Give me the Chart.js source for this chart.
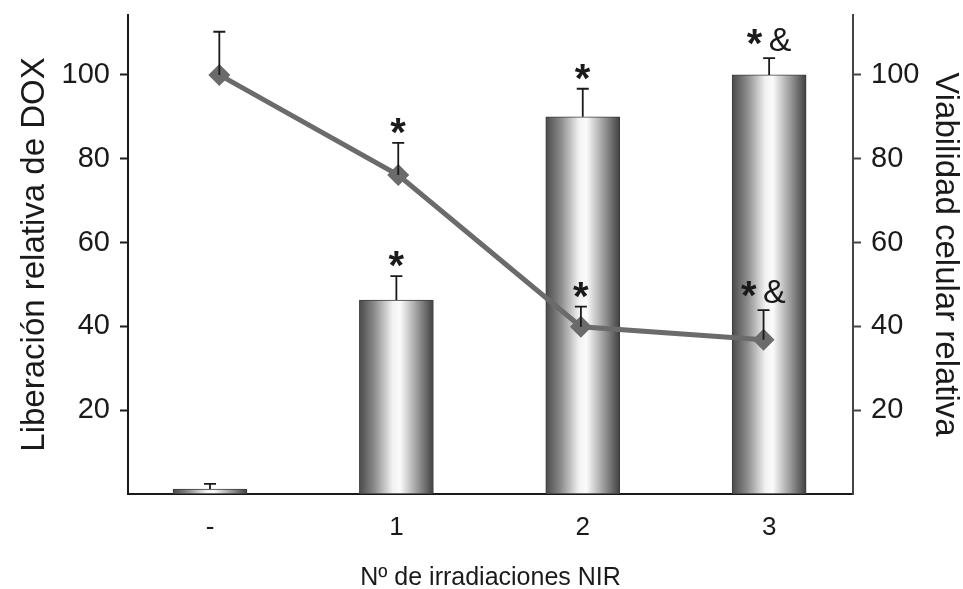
<!DOCTYPE html>
<html>
<head>
<meta charset="utf-8">
<script src="https://cdn.jsdelivr.net/npm/chart.js@4/dist/chart.umd.min.js"></script>
<style>
  html, body { margin: 0; padding: 0; background: #fff; }
  #wrap { width: 963px; height: 589px; }
</style>
</head>
<body>
<div id="wrap"><canvas id="chart"></canvas></div>
<script>
// Values (both y axes share the same 0..~114 range).
const xTickLabels = ["-", "1", "2", "3"];
const barX = [0, 1, 2, 3];
const doxRelease = [1.2, 46.3, 90, 100];
const doxError = [1.2, 5.7, 6.7, 4];
const doxMarks = ["", "*", "*", "*&"];

const viabX = [0.05, 1.01, 1.99, 2.97];
const viability = [100, 76.1, 39.9, 36.8];
const viabError = [10.3, 7.7, 4.8, 7.1];
const viabMarks = ["", "*", "*", "*&"];

const FONT = "'Liberation Sans', Arial, Helvetica, sans-serif";
const Y_MAX = 114.3;
const INK = "#1a1a1a";
const LINE_GREY = "#6b6b6b";
const BAR_WIDTH = 74;

Chart.defaults.font.family = FONT;
Chart.defaults.color = INK;

// Cylinder-like horizontal shading for each bar.
function barGradient(c) {
  const chart = c.chart;
  if (!chart.chartArea) return "#999";
  const cx = chart.scales.x.getPixelForValue(barX[c.dataIndex]);
  const g = chart.ctx.createLinearGradient(cx - BAR_WIDTH / 2, 0, cx + BAR_WIDTH / 2, 0);
  g.addColorStop(0, "#4a4a4a");
  g.addColorStop(0.2, "#8a8a8a");
  g.addColorStop(0.45, "#f2f2f2");
  g.addColorStop(0.55, "#fbfbfb");
  g.addColorStop(0.8, "#949494");
  g.addColorStop(1, "#404040");
  return g;
}

// Upward-only error bars with a small cap.
function drawErrors(chart, xs, ys, errs, axisId) {
  const ctx = chart.ctx;
  const xScale = chart.scales.x;
  const yScale = chart.scales[axisId];
  ctx.save();
  ctx.strokeStyle = INK;
  ctx.lineWidth = 1.8;
  xs.forEach((xv, i) => {
    const px = xScale.getPixelForValue(xv);
    const y0 = yScale.getPixelForValue(ys[i]);
    const y1 = yScale.getPixelForValue(ys[i] + errs[i]);
    ctx.beginPath();
    ctx.moveTo(px, y0);
    ctx.lineTo(px, y1);
    ctx.moveTo(px - 6, y1);
    ctx.lineTo(px + 6, y1);
    ctx.stroke();
  });
  ctx.restore();
}

// Significance marks: "*" and "&" set above the error caps.
function drawMarks(chart, xs, ys, errs, marks, axisId) {
  const ctx = chart.ctx;
  ctx.save();
  ctx.fillStyle = INK;
  ctx.textBaseline = "alphabetic";
  ctx.textAlign = "left";
  const fonts = { "*": `bold 40px ${FONT}`, "&": `34px ${FONT}` };
  xs.forEach((xv, i) => {
    if (!marks[i]) return;
    const px = chart.scales.x.getPixelForValue(xv);
    const cap = chart.scales[axisId].getPixelForValue(ys[i] + errs[i]);
    const chars = [...marks[i]];
    const gap = 7;
    const widths = chars.map((ch) => {
      ctx.font = fonts[ch];
      const m = ctx.measureText(ch);
      return m.actualBoundingBoxLeft + m.actualBoundingBoxRight;
    });
    let x = px - (widths.reduce((a, b) => a + b, 0) + gap * (chars.length - 1)) / 2;
    chars.forEach((ch, k) => {
      ctx.font = fonts[ch];
      const m = ctx.measureText(ch);
      let y = cap - 7;
      if (ch === "*") y = cap - (chars.length > 1 ? 13 : 9) - m.actualBoundingBoxDescent;
      ctx.fillText(ch, x + m.actualBoundingBoxLeft, y);
      x += widths[k] + gap;
    });
  });
  ctx.restore();
}

const annotations = {
  id: "annotations",
  afterDatasetsDraw(chart) {
    drawErrors(chart, barX, doxRelease, doxError, "y");
    drawErrors(chart, viabX, viability, viabError, "y2");
    drawMarks(chart, barX, doxRelease, doxError, doxMarks, "y");
    drawMarks(chart, viabX, viability, viabError, viabMarks, "y2");
  },
};

const yAxis = (position, width, borderColor, title, titlePad) => ({
  type: "linear",
  position,
  min: 0,
  max: Y_MAX,
  border: { display: true, color: borderColor, width: 2 },
  grid: { drawOnChartArea: false, drawTicks: true, tickLength: 8, tickColor: borderColor, tickWidth: 2 },
  ticks: { stepSize: 20, includeBounds: false, padding: 10, color: INK, font: { size: 29 } },
  afterBuildTicks: (s) => { s.ticks = s.ticks.filter((t) => t.value > 0); },
  afterFit: (s) => {
    s.width = width;
    s.paddingTop = 0;
    s.paddingBottom = 0;
  },
  title: {
    display: true,
    text: title,
    color: INK,
    font: { size: 33, lineHeight: 1 },
    padding: { top: titlePad, bottom: 0 },
  },
});

new Chart(document.getElementById("chart"), {
  data: {
    datasets: [
      {
        type: "line",
        label: "Viabilidad celular relativa",
        yAxisID: "y2",
        order: 1,
        data: viabX.map((x, i) => ({ x, y: viability[i] })),
        borderColor: LINE_GREY,
        borderWidth: 5,
        pointStyle: "rectRot",
        pointRadius: 11,
        pointBackgroundColor: LINE_GREY,
        pointBorderColor: LINE_GREY,
        pointBorderWidth: 0,
        tension: 0,
      },
      {
        type: "bar",
        label: "Liberación relativa de DOX",
        yAxisID: "y",
        order: 2,
        data: barX.map((x, i) => ({ x, y: doxRelease[i] })),
        barThickness: BAR_WIDTH,
        backgroundColor: barGradient,
        borderColor: "#3c3c3c",
        borderWidth: 1,
        borderSkipped: false,
      },
    ],
  },
  options: {
    responsive: true,
    maintainAspectRatio: false,
    animation: false,
    layout: { padding: { top: 15, left: 0, right: 0, bottom: 0 } },
    plugins: { legend: { display: false }, tooltip: { enabled: false } },
    scales: {
      x: {
        type: "linear",
        position: "bottom",
        offset: false,
        min: -0.44,
        max: 3.45,
        border: { display: true, color: INK, width: 2 },
        grid: { drawOnChartArea: false, drawTicks: false },
        ticks: {
          padding: 18,
          color: INK,
          font: { size: 26 },
          callback: (v, i) => xTickLabels[i],
        },
        afterBuildTicks: (s) => { s.ticks = barX.map((v) => ({ value: v })); },
        afterFit: (s) => {
          s.height = 95;
          s.paddingLeft = 0;
          s.paddingRight = 0;
        },
        title: {
          display: true,
          text: "Nº de irradiaciones NIR",
          color: INK,
          font: { size: 25, lineHeight: 1 },
          padding: { top: 0, bottom: -2 },
        },
      },
      y: yAxis("left", 128, INK, "Liberación relativa de DOX", 18.5),
      y2: yAxis("right", 110, "#454545", "Viabilidad celular relativa", 1.5),
    },
  },
  plugins: [annotations],
});
</script>
</body>
</html>
